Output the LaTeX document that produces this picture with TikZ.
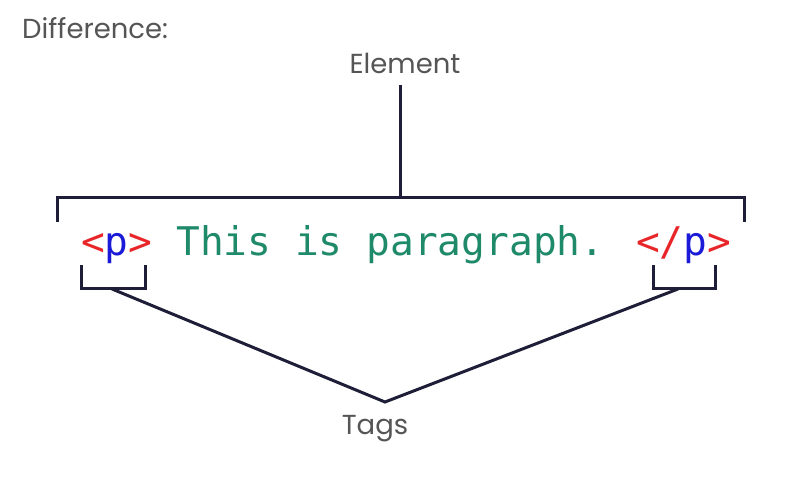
\documentclass[tikz,border=0pt]{standalone}
\usepackage{fontspec}
\setmainfont{Poppins}
\newfontfamily\codefont{DejaVu Sans Mono}
\definecolor{linecol}{HTML}{1E1E38}
\definecolor{labelcol}{HTML}{555555}
\definecolor{tagred}{HTML}{E8262A}
\definecolor{tagblue}{HTML}{1A1AD8}
\definecolor{codegreen}{HTML}{1F8A6A}
\tikzset{
  bracketline/.style={draw=linecol, line width=3pt},
  label/.style={text=labelcol, font=\fontsize{27.5}{30}\selectfont, inner sep=0pt},
}
\begin{document}
\begin{tikzpicture}[x=1pt,y=-1pt]
\useasboundingbox (0,0) rectangle (807,484);
\node[label, anchor=west] (diff) at (22,28) {Difference:};
\node[label] (elem) at (405,63) {Element};
\node[inner sep=0pt, anchor=base west, font=\codefont\fontsize{39.5}{44}\selectfont] (code) at (81,256)
  {\textcolor{tagred}{<}\textcolor{tagblue}{p}\textcolor{tagred}{>} \textcolor{codegreen}{This is paragraph.} \textcolor{tagred}{</}\textcolor{tagblue}{p}\textcolor{tagred}{>}};
\node[label] (tags) at (375,429) {Tags};
\coordinate (etop) at (400,85);
\coordinate (emid) at (400,198);
\coordinate (apex) at (385,402);
\coordinate (lb) at (112,289);
\coordinate (rb) at (678,289);
\draw[bracketline] (etop) -- (emid);
\draw[bracketline] (57,222) -- (57,198) -- (744,198) -- (744,222);
\draw[bracketline] (81,265) -- (81,289) -- (145,289) -- (145,265);
\draw[bracketline] (653,265) -- (653,289) -- (715,289) -- (715,265);
\draw[bracketline] (lb) -- (apex) -- (rb);
\end{tikzpicture}
\end{document}
